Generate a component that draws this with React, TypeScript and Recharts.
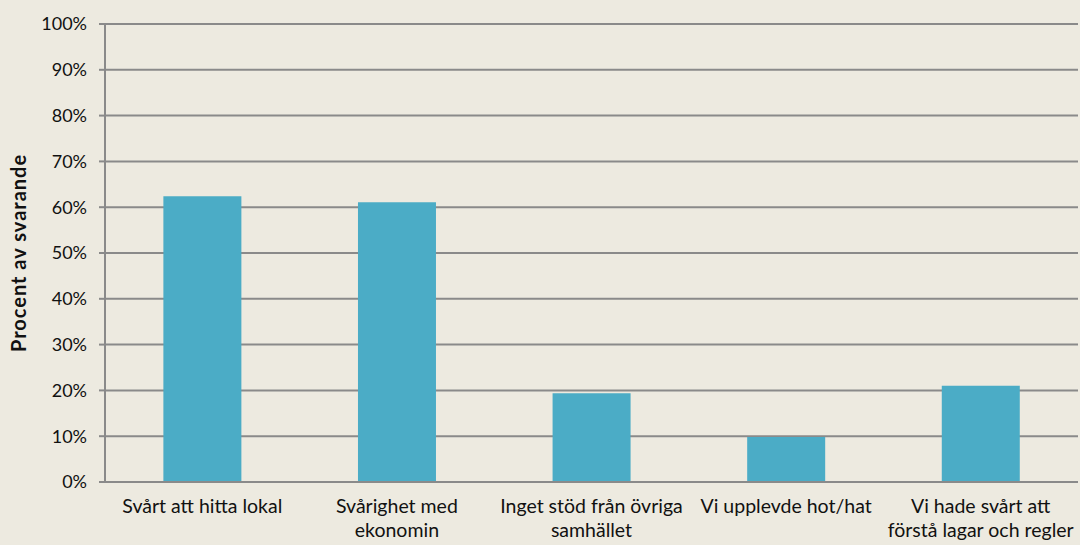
import { BarChart, Bar, XAxis, YAxis, CartesianGrid } from "recharts"

const categories = [
  "Svårt att hitta lokal",
  "Svårighet med\nekonomin",
  "Inget stöd från övriga\nsamhället",
  "Vi upplevde hot/hat",
  "Vi hade svårt att\nförstå lagar och regler",
]
const values = [62.4, 61.1, 19.4, 9.8, 21.0]
const yTicks = [0, 10, 20, 30, 40, 50, 60, 70, 80, 90, 100]

const data = categories.map((c, i) => ({ name: c, value: values[i] }))

const FONT = "Lato, 'Open Sans', sans-serif"

const CategoryTick = ({ x, y, payload }: any) => {
  const lines = String(payload.value).split("\n")
  return (
    <g transform={`translate(${x},${y})`}>
      {lines.map((l, i) => (
        <text key={i} x={0} y={0} dy={23 + i * 24} textAnchor="middle" fontSize={19.5} fill="#111" fontFamily={FONT}>
          {l}
        </text>
      ))}
    </g>
  )
}

export default function App() {
  return (
    <div style={{ position:"absolute", left:0, top:0, width:1080, height:545, background:"#edeae0" }}>
      <BarChart width={1080} height={545} data={data} barCategoryGap="30%" margin={{ top:24, right:2, bottom:0, left:0 }}>
        <CartesianGrid vertical={false} stroke="#8a8a8a" strokeWidth={2} />
        <XAxis dataKey="name" interval={0} height={63} tick={<CategoryTick />} tickLine={false} axisLine={{ stroke:"#8a8a8a", strokeWidth:2 }} />
        <YAxis
          width={105}
          domain={[0, 100]}
          ticks={yTicks}
          interval={0}
          tickFormatter={(v: number) => `${v}%`}
          tick={{ fontSize:18, fill:"#111", fontFamily:FONT }}
          tickSize={6}
          tickMargin={12}
          tickLine={{ stroke:"#8a8a8a", strokeWidth:2 }}
          axisLine={{ stroke:"#8a8a8a", strokeWidth:2 }}
          label={{ value:"Procent av svarande", angle:-90, position:"insideLeft", offset:19, style:{ textAnchor:"middle", fontSize:20, fontWeight:700, letterSpacing:1, fill:"#111", fontFamily:FONT } }}
        />
        <Bar dataKey="value" fill="#4bacc6" isAnimationActive={false} />
      </BarChart>
    </div>
  )
}
